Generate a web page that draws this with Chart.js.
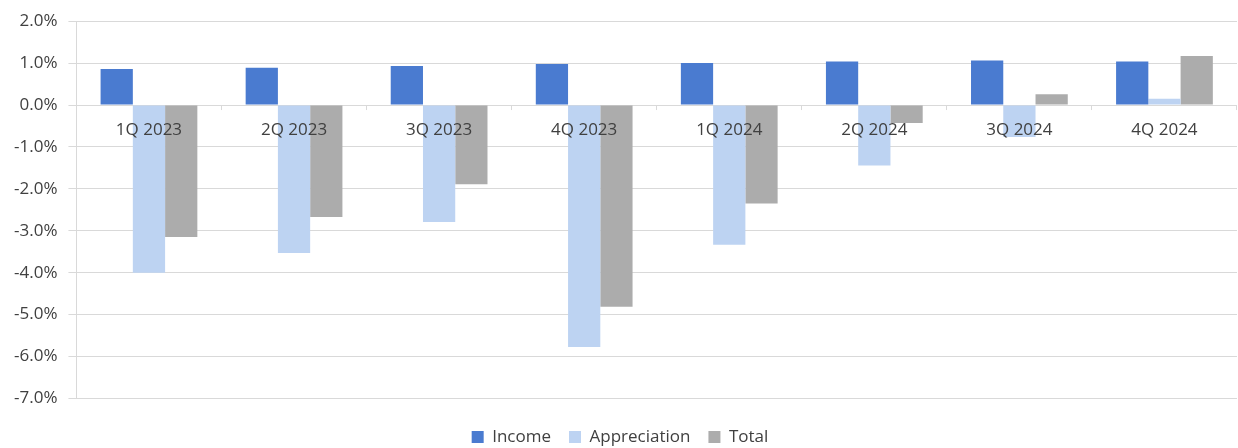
<!DOCTYPE html>
<html lang="en">
<head>
    <meta charset="UTF-8">
    <title>Income, Appreciation and Total Returns</title>
    <style>
        html, body { margin: 0; padding: 0; background: #fff; }
        .chart-box { width: 1238px; height: 448px; }
    </style>
</head>
<body>
    <div class="chart-box">
        <canvas id="returns-chart"></canvas>
    </div>

    <script src="https://cdn.jsdelivr.net/npm/chart.js"></script>
    <script>
        // Quarters and returns (percent)
        const quarters = ['1Q 2023', '2Q 2023', '3Q 2023', '4Q 2023', '1Q 2024', '2Q 2024', '3Q 2024', '4Q 2024'];
        const income = [0.86, 0.89, 0.93, 0.98, 1.00, 1.04, 1.06, 1.04];
        const appreciation = [-4.00, -3.53, -2.79, -5.77, -3.33, -1.44, -0.76, 0.15];
        const total = [-3.15, -2.67, -1.89, -4.81, -2.35, -0.43, 0.26, 1.17];
        const yMin = -7, yMax = 2, yStep = 1;

        const textColor = '#404040';
        const gridColor = '#d9d9d9';
        const fontFamily = '"Open Sans", sans-serif';

        // Category labels sit just under the zero line and over the bars, like Excel does
        const zeroAxisLabels = {
            id: 'zeroAxisLabels',
            beforeDatasetsDraw(chart) {
                const ctx = chart.ctx;
                const xScale = chart.scales.x;
                const y0 = chart.scales.y.getPixelForValue(0);
                const step = xScale.width / quarters.length;
                ctx.save();
                ctx.strokeStyle = gridColor;
                ctx.lineWidth = 1;
                for (let i = 1; i <= quarters.length; i++) {
                    const x = Math.round(xScale.left + step * i) - 0.5;
                    ctx.beginPath();
                    ctx.moveTo(x, y0);
                    ctx.lineTo(x, y0 + 5);
                    ctx.stroke();
                }
                ctx.restore();
            },
            afterDatasetsDraw(chart) {
                const ctx = chart.ctx;
                const xScale = chart.scales.x;
                const y0 = chart.scales.y.getPixelForValue(0);
                ctx.save();
                ctx.fillStyle = textColor;
                ctx.font = '17px ' + fontFamily;
                ctx.textAlign = 'center';
                ctx.textBaseline = 'middle';
                quarters.forEach((q, i) => {
                    ctx.fillText(q, xScale.getPixelForValue(i), y0 + 25);
                });
                ctx.restore();
            }
        };

        new Chart(document.getElementById('returns-chart'), {
            type: 'bar',
            data: {
                labels: quarters,
                datasets: [
                    { label: 'Income', data: income, backgroundColor: '#4a7bd0' },
                    { label: 'Appreciation', data: appreciation, backgroundColor: '#bdd3f2' },
                    { label: 'Total', data: total, backgroundColor: '#acacac' }
                ]
            },
            options: {
                responsive: true,
                maintainAspectRatio: false,
                animation: false,
                categoryPercentage: 0.667,
                barPercentage: 1.0,
                layout: { padding: { top: 12, left: 3, right: 1, bottom: -7.5 } },
                plugins: {
                    tooltip: { enabled: false },
                    legend: {
                        position: 'bottom',
                        labels: {
                            color: textColor,
                            font: { family: fontFamily, size: 17 },
                            boxWidth: 12,
                            boxHeight: 12,
                            padding: 18
                        }
                    }
                },
                scales: {
                    x: {
                        display: true,
                        ticks: { display: false },
                        grid: { display: false },
                        border: { display: false },
                        afterFit(scale) { scale.height = 12; }
                    },
                    y: {
                        min: yMin,
                        max: yMax,
                        ticks: {
                            stepSize: yStep,
                            color: textColor,
                            padding: 11,
                            font: { family: fontFamily, size: 17 },
                            callback: v => v.toFixed(1) + '%'
                        },
                        grid: { color: gridColor, tickLength: 8 },
                        border: { color: gridColor }
                    }
                }
            },
            plugins: [zeroAxisLabels]
        });
    </script>
</body>
</html>
